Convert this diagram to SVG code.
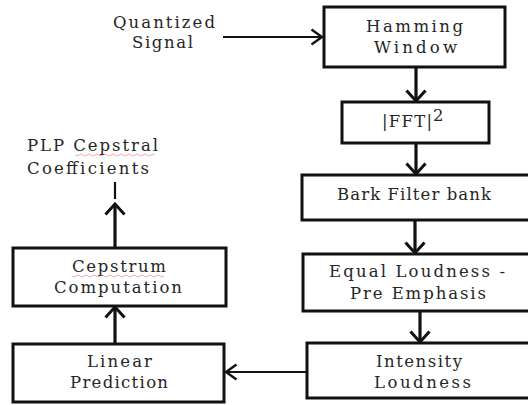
<svg xmlns="http://www.w3.org/2000/svg" width="528" height="405" viewBox="0 0 528 405">
<style>
.box{fill:#fff;stroke:#111;stroke-width:3}
.t{font-family:"DejaVu Serif","Liberation Serif",serif;font-size:16.5px;fill:#262626}
.v{stroke:#111;stroke-width:3.2;fill:none}
.h{stroke:#111;stroke-width:2;fill:none}
.sq{stroke:#d66;stroke-width:0.8;fill:none;opacity:0.7}
</style>
<defs>
<marker id="ah" markerUnits="userSpaceOnUse" viewBox="0 0 14 22" refX="12" refY="11" markerWidth="14" markerHeight="22" orient="auto">
<path d="M1.5,1.5 L12,11 L1.5,20.5" fill="none" stroke="#111" stroke-width="3"/>
</marker>
<marker id="ahs" markerUnits="userSpaceOnUse" viewBox="0 0 14 18" refX="12" refY="9" markerWidth="14" markerHeight="18" orient="auto">
<path d="M1.5,1.5 L12,9 L1.5,16.5" fill="none" stroke="#111" stroke-width="2.4"/>
</marker>
</defs>
<rect width="528" height="405" fill="#fff"/>
<g id="connectors">
<line class="h" x1="223" y1="37" x2="322" y2="37" marker-end="url(#ahs)"/>
<line class="v" x1="416" y1="67" x2="416" y2="101" marker-end="url(#ah)"/>
<line class="v" x1="416" y1="143" x2="416" y2="174" marker-end="url(#ah)"/>
<line class="v" x1="415" y1="220" x2="415" y2="253" marker-end="url(#ah)"/>
<line class="v" x1="420" y1="311" x2="420" y2="342" marker-end="url(#ah)"/>
<line class="h" x1="307" y1="372" x2="226" y2="372" marker-end="url(#ahs)"/>
<line class="v" x1="115" y1="344" x2="115" y2="307" marker-end="url(#ah)"/>
<line class="v" x1="115" y1="248" x2="115" y2="204" marker-end="url(#ah)"/>
<line stroke="#111" stroke-width="2.2" x1="115" y1="182" x2="115" y2="199"/>
</g>
<g id="quantized">
<text class="t" x="113" y="28" textLength="102">Quantized</text>
<text class="t" x="132" y="48" textLength="61">Signal</text>
</g>
<g id="hamming">
<rect class="box" x="324" y="7" width="181" height="60"/>
<text class="t" x="366" y="32" textLength="97">Hamming</text>
<text class="t" x="374" y="53" textLength="83">Window</text>
</g>
<g id="fft">
<rect class="box" x="342" y="102" width="147" height="41"/>
<text class="t" x="382" y="127" textLength="50">|FFT|</text>
<text class="t" x="433" y="121" font-size="10">2</text>
</g>
<g id="bark">
<rect class="box" x="302" y="175" width="240" height="45"/>
<text class="t" x="337" y="200" textLength="154">Bark Filter bank</text>
</g>
<g id="equal">
<rect class="box" x="303" y="254" width="240" height="57"/>
<text class="t" x="329" y="277" textLength="176">Equal Loudness -</text>
<text class="t" x="350" y="299" textLength="136">Pre Emphasis</text>
</g>
<g id="intensity">
<rect class="box" x="307" y="343" width="240" height="55"/>
<text class="t" x="376" y="367" textLength="86">Intensity</text>
<text class="t" x="374" y="388" textLength="97">Loudness</text>
</g>
<g id="cepstrum">
<rect class="box" x="13" y="248" width="213" height="58"/>
<text class="t" x="72" y="272" textLength="94">Cepstrum</text>
<path class="sq" d="M72,276 q2,2 4,0 t4,0 t4,0 t4,0 t4,0 t4,0 t4,0 t4,0 t4,0 t4,0 t4,0 t4,0 t4,0 t4,0 t4,0 t4,0 t4,0 t4,0 t4,0 t4,0 t4,0 t4,0 t4,0"/>
<text class="t" x="54" y="293" textLength="128">Computation</text>
</g>
<g id="linear">
<rect class="box" x="13" y="344" width="211" height="58"/>
<text class="t" x="87" y="367" textLength="65">Linear</text>
<text class="t" x="70" y="388" textLength="98">Prediction</text>
</g>
<g id="plp">
<text class="t" x="27" y="151" textLength="131">PLP Cepstral</text>
<path class="sq" d="M75,155 q2,2 4,0 t4,0 t4,0 t4,0 t4,0 t4,0 t4,0 t4,0 t4,0 t4,0 t4,0 t4,0 t4,0 t4,0 t4,0 t4,0 t4,0 t4,0 t4,0 t4,0"/>
<text class="t" x="27" y="174" textLength="122">Coefficients</text>
</g>
</svg>
